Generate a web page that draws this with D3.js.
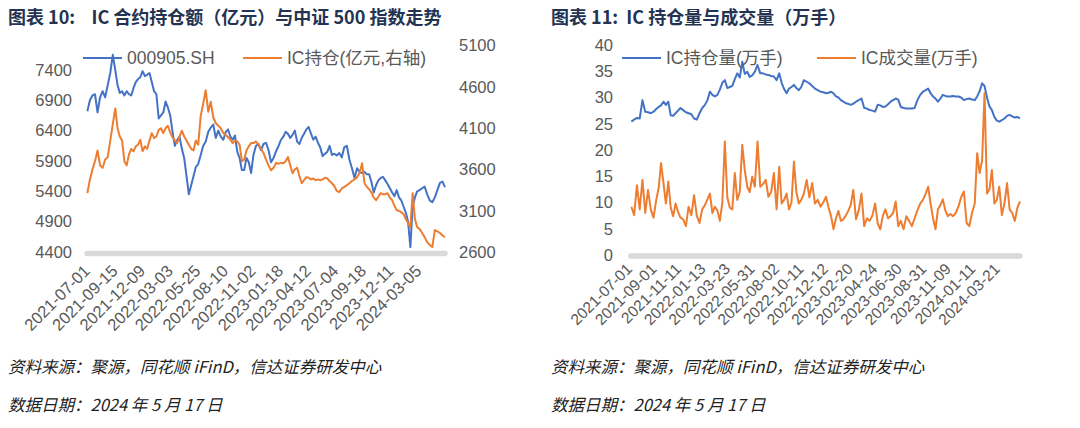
<!DOCTYPE html>
<html><head><meta charset="utf-8">
<script src="https://cdn.jsdelivr.net/npm/d3@7"></script>
<style>body{margin:0;background:#fff}svg{display:block}</style>
</head><body>
<svg id="c" width="1080" height="428"></svg>
<script>
// ---------- shared weekly sample dates (Fridays) ----------
const weekEnds = d3.timeFriday.range(new Date(2021, 6, 2), new Date(2024, 4, 18));
const endDate = "2024-05-17";

// ---------- Chart 1 data ----------
const title1 = "图表 10:    IC 合约持仓额（亿元）与中证 500 指数走势";
const ticks1 = ["2021-07-01","2021-09-15","2021-12-09","2022-03-03","2022-05-25","2022-08-10","2022-11-02","2023-01-18","2023-04-12","2023-07-04","2023-09-18","2023-12-11","2024-03-05"];
const leftTicks1 = [4400,4900,5400,5900,6400,6900,7400];
const rightTicks1 = [2600,3100,3600,4100,4600,5100];
const seriesNames1 = ["000905.SH", "IC持仓(亿元,右轴)"];
const csi500 = [
 6720,6900,6980,7000,6700,6950,7050,6950,7150,7350,7650,
 7400,7150,7020,7050,6980,7050,7000,6980,7100,7200,7250,7280,
 7380,7300,7320,7350,7200,7050,7000,6600,6650,6700,6880,6780,
 6650,6380,6150,6250,6300,6100,5950,5650,5350,5500,5650,5800,
 5850,6000,6150,6220,6380,6450,6500,6280,6400,6300,6250,
 6380,6420,6300,6250,6320,6050,5950,5750,5750,5950,5880,5700,
 6000,6150,6180,6080,6180,6200,6080,5880,5950,6060,6150,
 6250,6300,6380,6350,6280,6330,6400,6220,6180,6280,6350,6420,
 6460,6350,6250,6300,6200,6120,5980,6020,6050,6150,6000,6020,
 5990,6030,5960,6130,6150,5920,5780,5620,5780,5720,5700,
 5720,5680,5680,5550,5380,5500,5580,5620,5640,5580,5520,5450,
 5380,5320,5420,5300,5250,5150,5050,4900,4480,5150,5300,5400,
 5420,5450,5480,5350,5250,5220,5300,5420,5540,5560,5470
];
const icValue = [
 3313,3480,3600,3700,3830,3650,3620,3720,3750,3950,4150,
 4340,4100,4000,3950,3700,3650,3780,3850,3820,3880,3900,3960,
 3820,3880,3850,3950,4040,3980,4000,4080,4100,4040,4100,4130,
 4050,3990,3950,3920,4000,4070,4000,3950,3900,3850,3830,3950,
 3900,4250,4400,4560,4300,4420,4230,4160,4130,4100,4040,
 4020,3990,3960,3920,3950,3940,3900,3700,3720,3830,3880,3920,
 3920,3940,3900,3850,3800,3720,3650,3590,3620,3680,3670,
 3680,3675,3700,3750,3650,3554,3600,3620,3520,3433,3470,3506,
 3500,3480,3490,3470,3480,3470,3480,3500,3490,3460,3433,3400,
 3340,3325,3370,3390,3410,3433,3460,3480,3506,3560,3675,
 3433,3390,3360,3320,3260,3228,3270,3313,3300,3300,3313,3260,
 3228,3160,3107,3100,3080,3060,3000,2950,2900,3313,3000,2900,
 2880,2830,2780,2720,2685,2660,2866,2850,2830,2800,2780
];

// ---------- Chart 2 data ----------
const title2 = "图表 11:  IC 持仓量与成交量（万手）";
const ticks2 = ["2021-07-01","2021-09-01","2021-11-11","2022-01-13","2022-03-23","2022-05-31","2022-08-02","2022-10-11","2022-12-12","2023-02-20","2023-04-24","2023-06-30","2023-08-31","2023-11-09","2024-01-11","2024-03-21"];
const yTicks2 = [0,5,10,15,20,25,30,35,40];
const seriesNames2 = ["IC持仓量(万手)", "IC成交量(万手)"];
const icOI = [
 25.4,25.8,26.1,26.0,29.5,27.3,27.2,27.0,27.3,
 27.8,28.2,28.5,29.2,28.6,29.2,26.6,26.5,27.0,27.5,
 28.0,27.6,27.2,27.0,26.8,26.0,25.8,27.0,28.0,
 28.6,29.5,31.1,30.5,30.2,30.5,31.5,32.8,33.3,31.8,
 32.0,32.2,33.5,34.6,33.8,36.8,34.5,34.9,33.9,34.2,
 34.9,36.2,34.6,34.6,34.4,34.3,34.1,34.0,33.3,
 34.6,32.8,31.6,30.8,31.7,32.0,32.4,31.8,31.4,32.0,
 33.3,33.0,32.7,32.2,31.7,31.4,31.1,31.0,30.8,
 30.9,31.1,30.8,30.2,30.0,29.5,29.2,28.9,28.8,28.6,
 28.8,29.2,29.5,29.8,28.0,27.9,27.6,27.5,27.3,
 28.6,28.5,28.2,28.3,28.7,29.2,29.5,29.8,29.6,28.2,
 28.0,27.9,27.9,27.9,28.0,29.5,30.5,31.1,
 31.4,31.7,30.8,30.2,29.8,29.2,29.8,30.5,30.3,30.2,
 30.2,30.3,30.2,30.2,30.0,29.5,29.7,29.8,29.6,
 29.5,30.2,31.2,32.7,32.2,30.0,28.3,27.6,26.3,25.6,
 25.4,25.7,26.0,26.5,26.7,26.4,26.2,26.3,26.0
];
const icVol = [
 9.2,7.6,13.3,8.7,14.3,8.0,12.4,8.7,7.1,
 10.5,12.7,17.5,13.7,9.8,14.0,9.0,7.4,9.8,8.2,
 7.1,6.8,5.5,9.2,7.6,11.4,7.5,6.1,8.7,
 9.5,10.6,11.7,8.0,9.2,8.5,6.5,10.0,21.6,11.0,
 9.0,8.7,15.6,10.5,12.0,21.0,16.2,13.0,12.0,14.9,
 13.0,21.6,13.0,13.5,14.3,11.1,12.0,15.6,8.7,
 16.8,9.8,10.5,11.7,8.7,10.0,17.8,12.0,9.8,10.5,
 11.7,14.3,11.0,13.7,9.8,10.5,9.2,10.0,11.1,
 9.0,7.4,4.9,7.0,8.4,6.5,6.8,7.5,8.4,9.5,
 12.4,6.8,8.5,11.7,5.5,7.0,6.5,7.5,9.8,
 6.0,4.9,7.5,8.7,7.0,7.4,8.0,10.2,5.5,6.5,
 4.9,7.4,6.5,5.5,7.0,8.5,9.8,10.5,
 11.7,13.0,9.8,7.0,4.9,8.7,9.5,10.6,8.5,7.4,
 7.8,7.4,8.0,9.2,11.0,12.1,6.1,5.5,8.0,
 9.8,19.4,15.6,18.0,30.8,11.7,12.5,16.2,9.8,10.5,
 13.0,7.6,9.8,13.7,8.7,8.0,6.5,9.0,10.2
];

const sourceText = "资料来源：聚源，同花顺 iFinD，信达证券研发中心";
const dateText = "数据日期：2024 年 5 月 17 日";

// ---------- styles ----------
const BLUE = "#4472C4", ORANGE = "#ED7D31", AXISGRAY = "#595959", BAND = "#d9d9d9", TITLE = "#243352";
const FONT = "'Liberation Sans', Arial, 'Noto Sans CJK SC', sans-serif";
const CJK = "'Noto Sans CJK SC', 'Liberation Sans', sans-serif";

const parse = d3.timeParse("%Y-%m-%d");
const svg = d3.select("#c");

// category-like time scale: labelled dates spaced evenly (trading-day axis)
function dateAxisScale(tickStrs, x0, x1, lastFrac) {
  const doms = tickStrs.map(parse).concat([parse(endDate)]);
  const n = tickStrs.length - 1;
  const step = (x1 - x0) / (n + lastFrac);
  const rng = doms.map((d, i) => i <= n ? x0 + i * step : x1);
  return d3.scaleTime().domain(doms).range(rng);
}

function drawChart(cfg) {
  const g = svg.append("g");
  // title
  g.append("text").attr("x", cfg.titleX).attr("y", 24)
    .attr("font-family", CJK).attr("font-weight", 700).attr("font-size", 18)
    .attr("fill", TITLE).style("white-space", "pre").text(cfg.title);

  const x = cfg.x;
  // left axis
  const la = g.append("g").attr("transform", `translate(${cfg.left},0)`)
    .call(d3.axisLeft(cfg.yL).tickValues(cfg.leftTicks).tickSize(0).tickPadding(cfg.padL).tickFormat(d3.format("d")));
  la.select(".domain").remove();
  la.selectAll("text").attr("font-family", FONT).attr("font-size", 16.5).attr("fill", AXISGRAY);
  if (cfg.yR) {
    const ra = g.append("g").attr("transform", `translate(${cfg.right},0)`)
      .call(d3.axisRight(cfg.yR).tickValues(cfg.rightTicks).tickSize(0).tickPadding(14).tickFormat(d3.format("d")));
    ra.select(".domain").remove();
    ra.selectAll("text").attr("font-family", FONT).attr("font-size", 16.5).attr("fill", AXISGRAY);
  }
  // baseline band
  g.append("line").attr("x1", cfg.left).attr("x2", cfg.right)
    .attr("y1", cfg.bandY).attr("y2", cfg.bandY)
    .attr("stroke", BAND).attr("stroke-width", 5.5).attr("stroke-linecap", "round");
  // date labels
  g.selectAll("text.dl").data(cfg.ticks.map(parse)).join("text").attr("class","dl")
    .attr("transform", d => `translate(${x(d) + cfg.lblDx},${cfg.lblY}) rotate(-45)`)
    .attr("text-anchor", "end").attr("font-family", FONT).attr("font-size", cfg.lblSize)
    .attr("fill", AXISGRAY).text(d3.timeFormat("%Y-%m-%d"));
  // lines
  cfg.series.forEach(s => {
    const line = d3.line().x((v, i) => x(weekEnds[i])).y(v => s.y(v));
    g.append("path").datum(s.values).attr("d", line).attr("fill", "none")
      .attr("stroke", s.color).attr("stroke-width", 2).attr("stroke-linejoin", "round");
  });
  // legend
  cfg.legend.forEach(l => {
    g.append("line").attr("x1", l.x).attr("x2", l.x + 39).attr("y1", 58).attr("y2", 58)
      .attr("stroke", l.color).attr("stroke-width", 2);
    g.append("text").attr("x", l.x + 44).attr("y", 64).attr("font-family", FONT)
      .attr("font-size", 17.5).attr("fill", AXISGRAY).text(l.name);
  });
  // notes
  g.append("text").attr("x", cfg.titleX).attr("y", 373).attr("font-family", CJK)
    .attr("font-style", "italic").attr("font-size", 16.5).attr("fill", "#222").text(sourceText);
  g.append("text").attr("x", cfg.titleX).attr("y", 411).attr("font-family", CJK)
    .attr("font-style", "italic").attr("font-size", 16.5).attr("fill", "#222").text(dateText);
}

// ---------- chart 1 ----------
const x1 = dateAxisScale(ticks1, 87, 445, 0.96);
const yL1 = d3.scaleLinear().domain([4400, 7800]).range([252, 45.7]);
const yR1 = d3.scaleLinear().domain([2600, 5100]).range([252, 45.7]);
drawChart({
  title: title1, titleX: 8, x: x1, left: 87, right: 445, yL: yL1, yR: yR1,
  leftTicks: leftTicks1, rightTicks: rightTicks1, padL: 15, bandY: 253.5,
  ticks: ticks1, lblDx: 4, lblY: 272, lblSize: 16.5,
  series: [{values: csi500, y: yL1, color: BLUE}, {values: icValue, y: yR1, color: ORANGE}],
  legend: [{x: 83, color: BLUE, name: seriesNames1[0]}, {x: 243, color: ORANGE, name: seriesNames1[1]}]
});

// ---------- chart 2 ----------
const x2 = dateAxisScale(ticks2, 631, 1020, 0.86);
const y2 = d3.scaleLinear().domain([0, 40]).range([255, 45]);
drawChart({
  title: title2, titleX: 551, x: x2, left: 631, right: 1020, yL: y2, yR: null,
  leftTicks: yTicks2, padL: 18, bandY: 256,
  ticks: ticks2, lblDx: 2, lblY: 270, lblSize: 15.5,
  series: [{values: icOI, y: y2, color: BLUE}, {values: icVol, y: y2, color: ORANGE}],
  legend: [{x: 622, color: BLUE, name: seriesNames2[0]}, {x: 817, color: ORANGE, name: seriesNames2[1]}]
});
</script>
</body></html>
